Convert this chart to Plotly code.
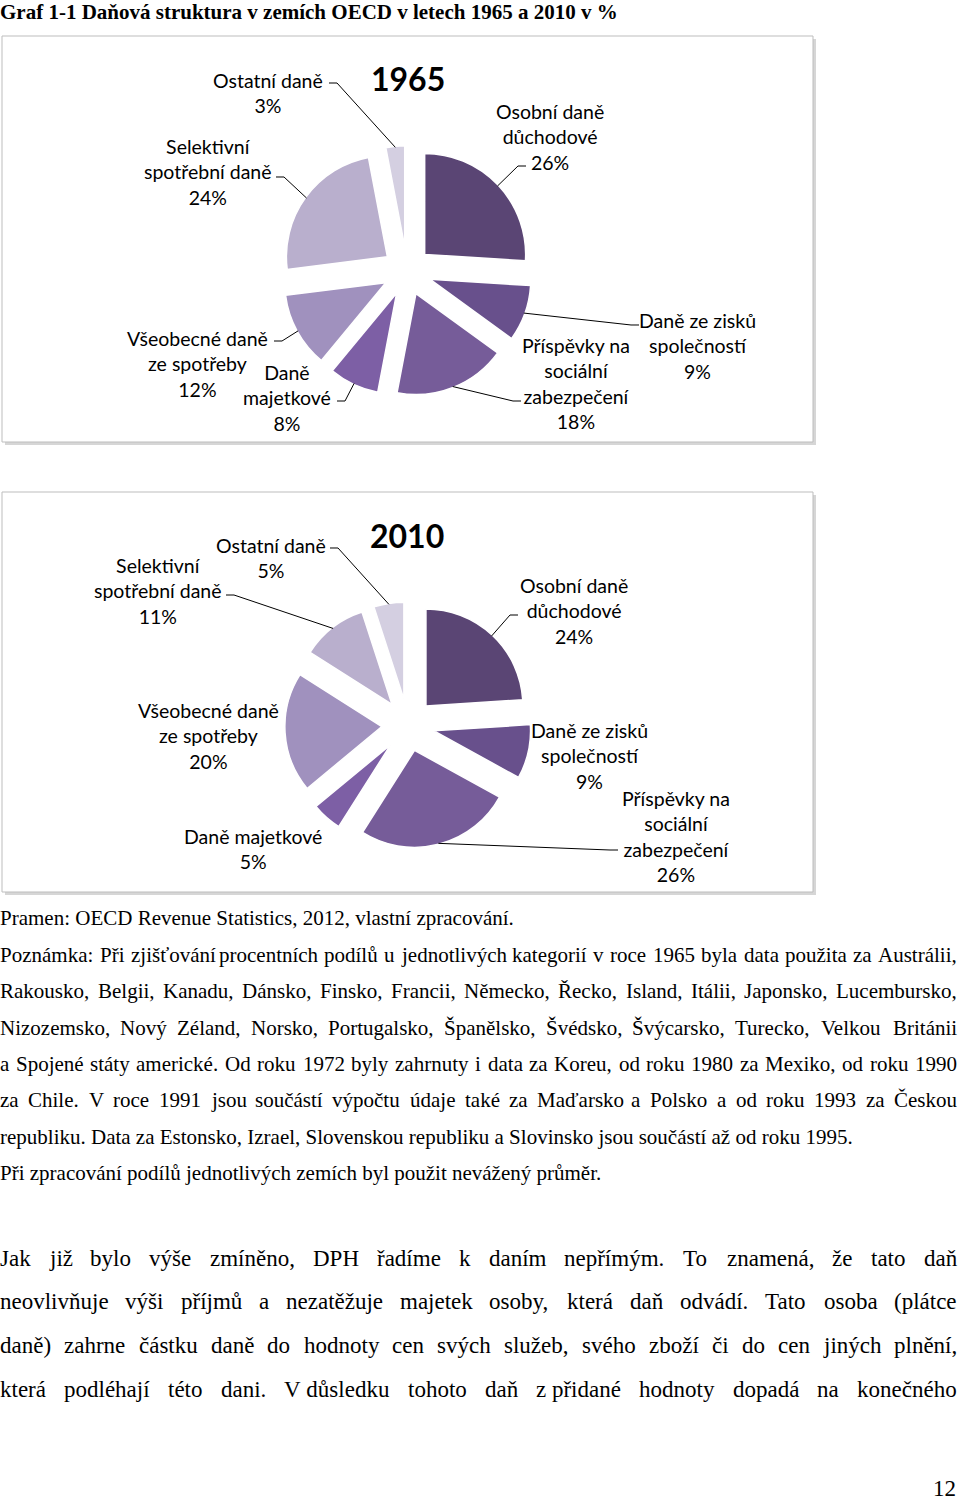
import math
import unicodedata
import plotly.graph_objects as go

W, H = 960, 1503

# ---------------- data ----------------
categories = ["Osobní daně důchodové", "Daně ze zisků společností",
              "Příspěvky na sociální zabezpečení", "Daně majetkové",
              "Všeobecné daně ze spotřeby", "Selektivní spotřební daně", "Ostatní daně"]
values_1965 = [26, 9, 18, 8, 12, 24, 3]
values_2010 = [24, 9, 26, 5, 20, 11, 5]
colors = ["#5A4574", "#68508C", "#765C99", "#7D5FA5", "#A091BE", "#B9AFCD", "#D4CFE1"]

# label wording (line breaks) per chart
names_1965 = ["Osobní daně<br>důchodové", "Daně ze zisků<br>společností",
              "Příspěvky na<br>sociální<br>zabezpečení", "Daně<br>majetkové",
              "Všeobecné daně<br>ze spotřeby", "Selektivní<br>spotřební daně", "Ostatní daně"]
names_2010 = ["Osobní daně<br>důchodové", "Daně ze zisků<br>společností",
              "Příspěvky na<br>sociální<br>zabezpečení", "Daně majetkové",
              "Všeobecné daně<br>ze spotřeby", "Selektivní<br>spotřební daně", "Ostatní daně"]

title_text = "Graf 1-1 Daňová struktura v zemích OECD v letech 1965 a 2010 v %"
source_text = "Pramen: OECD Revenue Statistics, 2012, vlastní zpracování."
note_lines_justified = [
    "Poznámka: Při zjišťování procentních podílů u jednotlivých kategorií v roce 1965 byla data použita za Austrálii,",
    "Rakousko, Belgii, Kanadu, Dánsko, Finsko, Francii, Německo, Řecko, Island, Itálii, Japonsko, Lucembursko,",
    "Nizozemsko, Nový Zéland, Norsko, Portugalsko, Španělsko, Švédsko, Švýcarsko, Turecko, Velkou Británii",
    "a Spojené státy americké. Od roku 1972 byly zahrnuty i data za Koreu, od roku 1980 za Mexiko, od roku 1990",
    "za Chile. V roce 1991 jsou součástí výpočtu údaje také za Maďarsko a Polsko a od roku 1993 za Českou",
]
note_lines_plain = [
    "republiku. Data za Estonsko, Izrael, Slovenskou republiku a Slovinsko jsou součástí až od roku 1995.",
    "Při zpracování podílů jednotlivých zemích byl použit nevážený průměr.",
]
body_lines = [
    "Jak již bylo výše zmíněno, DPH řadíme k daním nepřímým. To znamená, že tato daň",
    "neovlivňuje výši příjmů a nezatěžuje majetek osoby, která daň odvádí. Tato osoba (plátce",
    "daně) zahrne částku daně do hodnoty cen svých služeb, svého zboží či do cen jiných plnění,",
    "která podléhají této dani. V\u00a0důsledku tohoto daň z\u00a0přidané hodnoty dopadá na konečného",
]
page_number = "12"

# ---------------- helpers ----------------
def PX(x):
    return x / W


def PY(y):
    return 1 - y / H


TNR = {}
for ch, w in zip("abcdefghijklmnopqrstuvwxyz",
                 [444, 500, 444, 500, 444, 333, 500, 500, 278, 278, 500, 278, 778,
                  500, 500, 500, 500, 333, 389, 278, 500, 500, 722, 500, 500, 444]):
    TNR[ch] = w
for ch, w in zip("ABCDEFGHIJKLMNOPQRSTUVWXYZ",
                 [722, 667, 667, 722, 611, 556, 722, 722, 333, 389, 722, 611, 889,
                  722, 722, 556, 722, 667, 556, 611, 722, 722, 944, 722, 722, 611]):
    TNR[ch] = w
for ch in "0123456789":
    TNR[ch] = 500
TNR.update({" ": 250, "\u00a0": 250, ",": 250, ".": 250, ":": 278, ";": 278,
            "(": 333, ")": 333, "-": 333, "%": 833})


def text_width(s, size):
    t = 0
    for ch in s:
        base = unicodedata.normalize("NFD", ch)[0]
        t += TNR.get(base, 500)
    return t * size / 1000.0


fig = go.Figure()
annotations = []
shapes = []

SERIF = "Liberation Serif"
SANS = "Lato"

# ---------------- chart boxes ----------------
for (x0, y0, x1, y1) in [(2, 36, 813, 442), (2, 492, 813, 892)]:
    shapes.append(dict(type="rect", xref="paper", yref="paper",
                       x0=PX(x0 + 3), x1=PX(x1 + 3), y0=PY(y1 + 3), y1=PY(y0 + 3),
                       fillcolor="#D6D6D6", line=dict(width=0), layer="below"))
    shapes.append(dict(type="rect", xref="paper", yref="paper",
                       x0=PX(x0), x1=PX(x1), y0=PY(y1), y1=PY(y0),
                       fillcolor="white", line=dict(color="#BDBDBD", width=1), layer="below"))


def add_pie(values, names, cx, cy, r, pull, year, title_x, title_y, label_pos, leaders):
    half = r * (1 + pull)
    fig.add_trace(go.Pie(
        values=values, labels=categories, sort=False, direction="clockwise", rotation=0,
        pull=[pull] * len(values),
        marker=dict(colors=colors, line=dict(color="white", width=1.5)),
        textinfo="none", hoverinfo="label+percent", showlegend=False,
        domain=dict(x=[PX(cx - half), PX(cx + half)], y=[PY(cy + half), PY(cy - half)]),
    ))
    annotations.append(dict(x=PX(title_x), y=PY(title_y), xref="paper", yref="paper",
                            text="<b>%s</b>" % year, showarrow=False,
                            font=dict(family=SANS, size=32, color="black"),
                            xanchor="center", yanchor="middle"))
    tot = float(sum(values))
    for i, (v, nm) in enumerate(zip(values, names)):
        lx, ly = label_pos[i]
        annotations.append(dict(x=PX(lx), y=PY(ly), xref="paper", yref="paper",
                                text="%s<br>%d%%" % (nm, v), showarrow=False,
                                font=dict(family=SANS, size=19.5, color="black"),
                                align="center", xanchor="center", yanchor="middle",
                                borderpad=0, borderwidth=0))
        if i in leaders:
            ax, ay, hd = leaders[i]
            start = sum(values[:i]) / tot * 360.0
            mid = math.radians(start + v / tot * 180.0)
            R = r * (1 + pull) - 1
            ex, ey = cx + R * math.sin(mid), cy - R * math.cos(mid)
            path = "M %f,%f L %f,%f L %f,%f" % (PX(ax), PY(ay), PX(ax + hd * 8), PY(ay),
                                                 PX(ex), PY(ey))
            shapes.append(dict(type="path", xref="paper", yref="paper", path=path,
                               line=dict(color="black", width=1), layer="above"))


add_pie(values_1965, names_1965, 407, 271, 101, 0.24, "1965", 408, 78,
        label_pos=[(550, 137), (697, 346), (576, 384), (287, 398),
                   (197, 364), (208, 172), (268, 93)],
        leaders={6: (329, 83, 1), 5: (276, 177, 1), 0: (526, 166, -1),
                 1: (639, 325, -1), 2: (521, 401, -1), 3: (337, 401, 1),
                 4: (274, 341, 1)})

add_pie(values_2010, names_2010, 408, 725, 97, 0.27, "2010", 407, 535,
        label_pos=[(574, 611), (589, 756), (676, 836), (253, 849),
                   (208, 736), (158, 591), (271, 558)],
        leaders={6: (330, 548, 1), 5: (226, 595, 1), 0: (518, 615, -1),
                 2: (618, 850, -1)})

# ---------------- document text ----------------
def plain(text, x, y, size, bold=False, anchor="left"):
    annotations.append(dict(x=PX(x), y=PY(y), xref="paper", yref="paper",
                            text=("<b>%s</b>" % text) if bold else text, showarrow=False,
                            font=dict(family=SERIF, size=size, color="black"),
                            xanchor=anchor, yanchor="middle", borderpad=0, borderwidth=0))


def justified(text, y, size, left=0.0, right=957.0):
    words = text.split(" ")
    widths = [text_width(w, size) for w in words]
    gap = (right - left - sum(widths)) / (len(words) - 1)
    x = left
    for w, wd in zip(words, widths):
        plain(w, x, y, size)
        x += wd + gap


plain(title_text, 0, 12, 21, bold=True)
plain(source_text, 0, 918, 21)
note_y = [955, 991, 1028, 1064, 1100, 1137, 1173]
for line, y in zip(note_lines_justified, note_y):
    justified(line, y, 21)
for line, y in zip(note_lines_plain, note_y[len(note_lines_justified):]):
    plain(line, 0, y, 21)

body_y = [1258, 1301, 1345, 1389]
for line, y in zip(body_lines, body_y):
    justified(line, y, 23)

plain(page_number, 956, 1488, 23, anchor="right")

fig.update_layout(
    width=W, height=H, margin=dict(l=0, r=0, t=0, b=0),
    paper_bgcolor="white", plot_bgcolor="white",
    annotations=annotations, shapes=shapes, showlegend=False,
)
fig.write_html("out.html", config={"displayModeBar": False},
               post_script="document.body.style.margin='0';document.body.style.overflow='hidden';")
